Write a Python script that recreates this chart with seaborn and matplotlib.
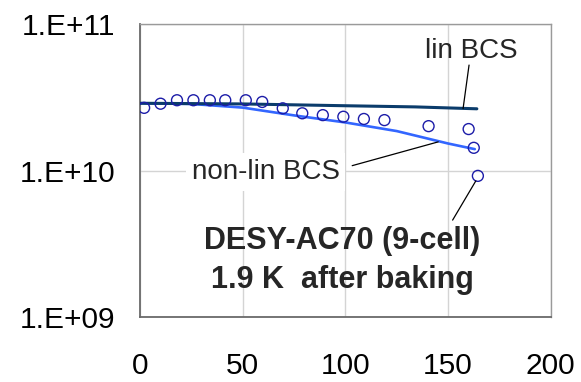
import numpy as np
import pandas as pd
import matplotlib
matplotlib.use("Agg")
import matplotlib.pyplot as plt
import seaborn as sns

# Measured Q0 versus accelerating field (MV/m scale 0-200)
e_meas = [2, 10, 18, 26, 34, 41.5, 51.5, 59.5, 69.5, 79, 89, 99, 109, 119, 140.5, 160, 162.5, 164.5]
q_meas = [2.68e10, 2.86e10, 3.02e10, 3.02e10, 3.02e10, 3.02e10, 3.02e10, 2.94e10, 2.66e10,
          2.46e10, 2.39e10, 2.33e10, 2.25e10, 2.21e10, 2.01e10, 1.92e10, 1.43e10, 9.2e9]

# Linear BCS model curve
e_lin = [0, 50, 100, 134, 164]
q_lin = [2.88e10, 2.85e10, 2.77e10, 2.72e10, 2.64e10]

# Non-linear BCS model curve
e_nonlin = [0, 25, 50, 75, 100, 125, 150, 163]
q_nonlin = [2.88e10, 2.85e10, 2.69e10, 2.38e10, 2.13e10, 1.86e10, 1.53e10, 1.40e10]

x_ticks = [0, 50, 100, 150, 200]
y_ticks = [1e9, 1e10, 1e11]
y_tick_labels = ["1.E+09", "1.E+10", "1.E+11"]

sns.set_theme(style="white")
plt.rcParams["font.family"] = ["Liberation Sans", "DejaVu Sans"]

fig = plt.figure(figsize=(5.81, 3.82), dpi=100)
ax = fig.add_axes([0.241, 0.170, 0.707, 0.767])

df_lin = pd.DataFrame({"E": e_lin, "Q": q_lin})
df_nl = pd.DataFrame({"E": e_nonlin, "Q": q_nonlin})
df_meas = pd.DataFrame({"E": e_meas, "Q": q_meas})

sns.lineplot(data=df_nl, x="E", y="Q", ax=ax, color="#3366ff", linewidth=1.9,
             sort=False, zorder=2)
sns.lineplot(data=df_lin, x="E", y="Q", ax=ax, color="#0b3c6b", linewidth=2.2,
             sort=False, zorder=3)
sns.scatterplot(data=df_meas, x="E", y="Q", ax=ax, marker="o", s=62,
                facecolor="none", edgecolor="#1c1ca8", linewidth=1.0, zorder=4)

ax.set_yscale("log")
ax.set_xlim(0, 200)
ax.set_ylim(1e9, 1e11)
ax.set_xticks(x_ticks)
ax.set_xticklabels([str(t) for t in x_ticks])
ax.set_yticks(y_ticks)
ax.set_yticklabels(y_tick_labels)
ax.minorticks_off()
ax.tick_params(axis="both", length=0, labelsize=21.5, colors="black")
ax.tick_params(axis="x", pad=25)
ax.tick_params(axis="y", pad=18)
ax.set_xlabel("")
ax.set_ylabel("")

ax.grid(True, color="#d4d4d4", linewidth=1.0, zorder=0)
ax.set_axisbelow(True)
for side in ["top", "right"]:
    ax.spines[side].set_color("#9a9a9a")
    ax.spines[side].set_linewidth(1.0)
for side in ["left", "bottom"]:
    ax.spines[side].set_color("#6a6a6a")
    ax.spines[side].set_linewidth(1.3)

# Leader lines from the labels to the curves / last point
leader = dict(arrowstyle="-", color="black", linewidth=0.9, shrinkA=0, shrinkB=0)
ax.annotate("", xy=(157.3, 2.65e10), xytext=(160.2, 5.25e10), arrowprops=leader, zorder=5)
ax.annotate("", xy=(145.2, 1.57e10), xytext=(103.3, 1.08e10), arrowprops=leader, zorder=5)
ax.annotate("", xy=(163.5, 8.5e9), xytext=(152.2, 4.59e9), arrowprops=leader, zorder=5)

ax.text(161.4, 6.5e10, "lin BCS", fontsize=20, ha="center", va="center", zorder=6)
ax.text(61.2, 9.77e9, "non-lin BCS", fontsize=20, ha="center", va="center", zorder=6,
        bbox=dict(boxstyle="square,pad=0.2", facecolor="white", edgecolor="none"))
ax.text(98.6, 3.3e9, "DESY-AC70 (9-cell)", fontsize=22, fontweight="bold",
        ha="center", va="center", zorder=6)
ax.text(98.6, 1.8e9, "1.9 K  after baking", fontsize=22, fontweight="bold",
        ha="center", va="center", zorder=6)

fig.savefig("out.png", dpi=100)
